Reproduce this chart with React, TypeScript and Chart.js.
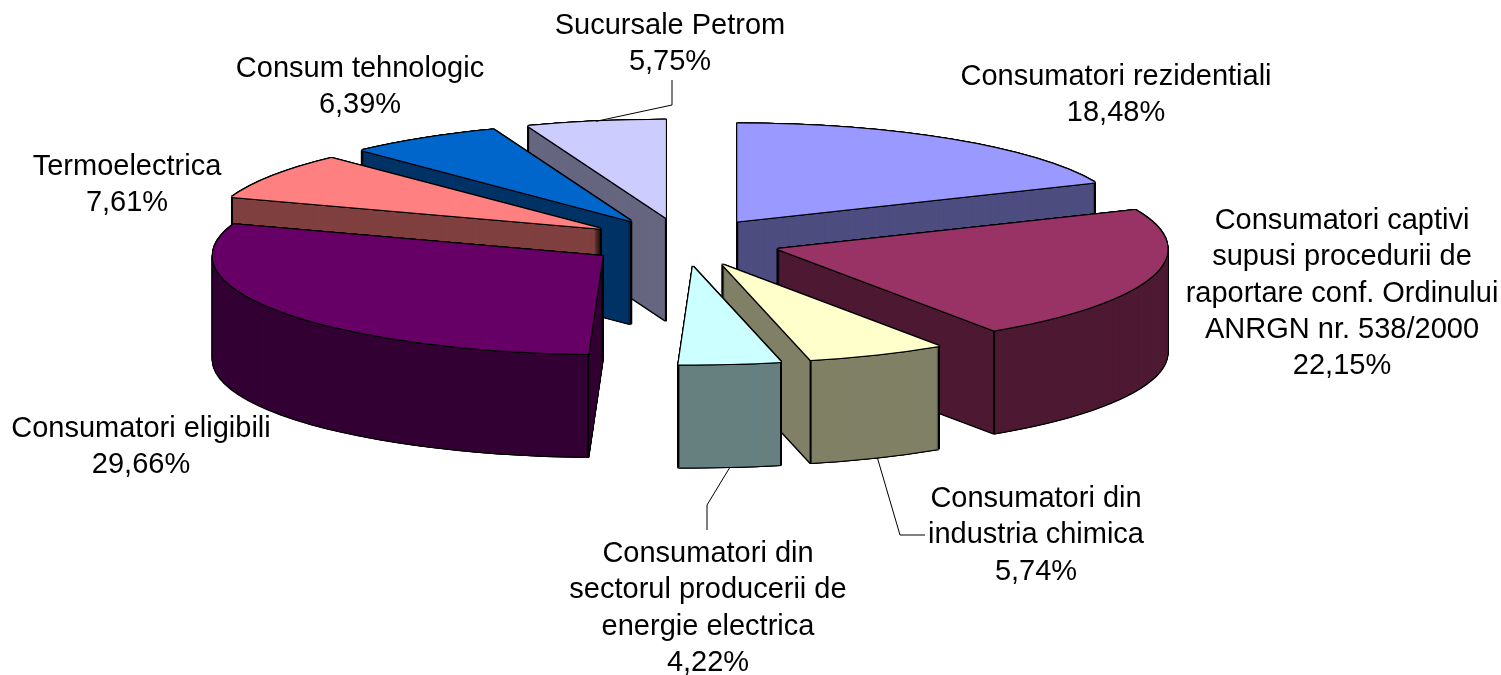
import React, { useEffect, useRef } from "react";
import { Chart, registerables } from "chart.js";

Chart.register(...registerables);

// ---- data ----
const categories = [
  "Consumatori rezidentiali",
  "Consumatori captivi supusi procedurii de raportare conf. Ordinului ANRGN nr. 538/2000",
  "Consumatori din industria chimica",
  "Consumatori din sectorul producerii de energie electrica",
  "Consumatori eligibili",
  "Termoelectrica",
  "Consum tehnologic",
  "Sucursale Petrom",
];
const shares = [18.48, 22.15, 5.74, 4.22, 29.66, 7.61, 6.39, 5.75];

// ---- styles ----
const topColors = ["#9999FF", "#993366", "#FFFFCC", "#CCFFFF", "#660066", "#FF8080", "#0066CC", "#CCCCFF"];
const sideColors = ["#4D4D80", "#4D1933", "#808066", "#668080", "#330033", "#804040", "#003366", "#666680"];

// ---- layout of the tilted pie ----
const CANVAS_W = 1501;
const CANVAS_H = 675;
const CENTER_X = 683.5;
const CENTER_Y = 242;
const RADIUS_X = 390;
const RADIUS_Y = 98;
const DEPTH = 103;
const EXPLODE = 98;
const FONT = '29px "Liberation Sans", Arial, sans-serif';

// label wrapping and placement (centre x, centre y of the first line, line height)
const labelLines = [
  ["Consumatori rezidentiali"],
  ["Consumatori captivi", "supusi procedurii de", "raportare conf. Ordinului", "ANRGN nr. 538/2000"],
  ["Consumatori din", "industria chimica"],
  ["Consumatori din", "sectorul producerii de", "energie electrica"],
  ["Consumatori eligibili"],
  ["Termoelectrica"],
  ["Consum tehnologic"],
  ["Sucursale Petrom"],
];
const labelAnchors = [
  [1116, 77],
  [1342, 221],
  [1036, 499],
  [708, 554],
  [141, 429],
  [127, 167],
  [360, 69],
  [670, 26],
];
const LINE_HEIGHT = 36.3;

// leader lines: slice index, whether they start at the lower rim, then the waypoints to the label
const leaders: { index: number; lower: boolean; via: number[][] }[] = [
  { index: 7, lower: false, via: [[672, 105], [672, 80]] },
  { index: 3, lower: true, via: [[707, 505], [707, 530]] },
  { index: 2, lower: true, via: [[900, 535], [925, 535]] },
];

const geometry = (arc: any) => {
  const mid = (arc.startAngle + arc.endAngle) / 2;
  const apexX = arc.x + Math.cos(mid) * EXPLODE;
  const apexY = arc.y + Math.sin(mid) * EXPLODE * (RADIUS_Y / RADIUS_X);
  const at = (angle: number) => [apexX + Math.cos(angle) * RADIUS_X, apexY + Math.sin(angle) * RADIUS_Y];
  return { mid, apexX, apexY, at };
};

const paint = (ctx: CanvasRenderingContext2D, arc: any, color: string, dx: number, dy: number) => {
  const { apexX, apexY } = geometry(arc);
  const face = Object.create(arc);
  face.options = { ...arc.options, backgroundColor: color, borderWidth: 0, offset: 0 };
  ctx.save();
  ctx.translate(apexX + dx, apexY + dy);
  ctx.scale(RADIUS_X / arc.outerRadius, RADIUS_Y / arc.outerRadius);
  ctx.translate(-arc.x, -arc.y);
  face.draw(ctx);
  ctx.restore();
};

const OUTLINE = [[-1, 0], [1, 0], [0, -1], [0, 1], [-1, -1], [1, -1], [-1, 1], [1, 1]];

const tiltedPie = {
  id: "tiltedPie",
  beforeDatasetsDraw(chart: any) {
    const { ctx } = chart;
    const arcs: any[] = chart.getDatasetMeta(0).data;
    const order = arcs
      .map((arc, i) => ({ arc, i }))
      .sort((a, b) => Math.sin(geometry(a.arc).mid) - Math.sin(geometry(b.arc).mid));
    for (const { arc, i } of order) {
      const { apexX, apexY, at } = geometry(arc);
      // silhouette of the whole prism
      for (let d = 0; d <= DEPTH; d += 1) {
        for (const [ox, oy] of OUTLINE) paint(ctx, arc, "#000000", ox, d + oy);
      }
      // body
      for (let d = DEPTH; d >= 1; d -= 1) paint(ctx, arc, sideColors[i], 0, d);
      // vertical edges that face the viewer
      const startCut = -Math.cos(arc.startAngle) > 0;
      const endCut = Math.cos(arc.endAngle) > 0;
      const edges: number[][] = [];
      if (startCut || endCut) edges.push([apexX, apexY]);
      if (startCut || Math.sin(arc.startAngle) > 0) edges.push(at(arc.startAngle));
      if (endCut || Math.sin(arc.endAngle) > 0) edges.push(at(arc.endAngle));
      ctx.save();
      ctx.strokeStyle = "#000000";
      ctx.lineWidth = 2;
      for (const [x, y] of edges) {
        ctx.beginPath();
        ctx.moveTo(x, y);
        ctx.lineTo(x, y + DEPTH);
        ctx.stroke();
      }
      ctx.restore();
      // top face
      for (const [ox, oy] of OUTLINE) paint(ctx, arc, "#000000", ox, oy);
      paint(ctx, arc, topColors[i], 0, 0);
    }
    return false;
  },
  afterDraw(chart: any) {
    const { ctx } = chart;
    const arcs: any[] = chart.getDatasetMeta(0).data;
    ctx.save();
    ctx.strokeStyle = "#000000";
    ctx.lineWidth = 1;
    for (const { index, lower, via } of leaders) {
      const { mid, at } = geometry(arcs[index]);
      const [x, y] = at(mid);
      ctx.beginPath();
      ctx.moveTo(x, lower ? y + DEPTH : y);
      for (const [vx, vy] of via) ctx.lineTo(vx, vy);
      ctx.stroke();
    }
    ctx.fillStyle = "#000000";
    ctx.font = FONT;
    ctx.textAlign = "center";
    ctx.textBaseline = "middle";
    categories.forEach((_, i) => {
      const lines = [...labelLines[i], shares[i].toFixed(2).replace(".", ",") + "%"];
      const [lx, ly] = labelAnchors[i];
      lines.forEach((line, n) => ctx.fillText(line, lx, ly + n * LINE_HEIGHT));
    });
    ctx.restore();
  },
};

export default function App() {
  const ref = useRef<HTMLCanvasElement>(null);
  useEffect(() => {
    if (!ref.current) return;
    const chart = new Chart(ref.current, {
      type: "pie",
      data: {
        labels: categories,
        datasets: [{ data: shares, backgroundColor: topColors, borderWidth: 0 }],
      },
      options: {
        animation: false,
        responsive: false,
        devicePixelRatio: 1,
        layout: {
          padding: {
            left: 0,
            top: 0,
            right: CANVAS_W - 2 * CENTER_X,
            bottom: CANVAS_H - 2 * CENTER_Y,
          },
        },
        plugins: { legend: { display: false }, tooltip: { enabled: false } },
      },
      plugins: [tiltedPie],
    } as any);
    return () => chart.destroy();
  }, []);
  return (
    <div style={{ position: "absolute", left: 0, top: 0, width: CANVAS_W, height: CANVAS_H, background: "#fff" }}>
      <canvas ref={ref} width={CANVAS_W} height={CANVAS_H} style={{ display: "block" }} />
    </div>
  );
}
